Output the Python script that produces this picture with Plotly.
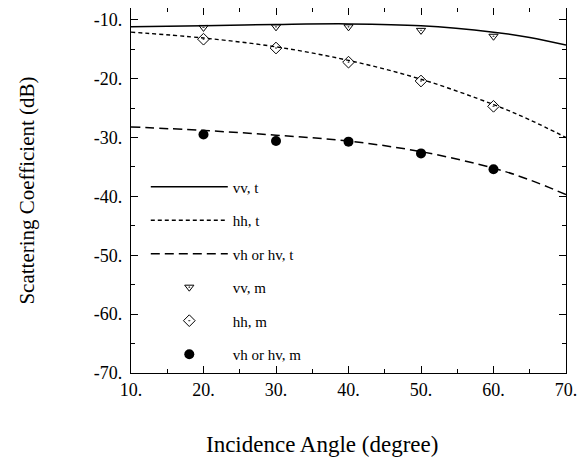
import plotly.graph_objects as go

angles_t = [10, 20, 30, 40, 50, 60, 65, 70]
vv_t = [-11.2, -11.0, -10.8, -10.7, -11.0, -12.1, -13.0, -14.3]
hh_t = [-12.1, -13.1, -14.6, -16.9, -20.1, -24.4, -27.0, -30.0]
vh_t = [-28.2, -28.8, -29.6, -30.6, -32.4, -35.2, -37.2, -39.7]

angles_m = [20, 30, 40, 50, 60]
vv_m = [-11.3, -11.2, -11.2, -11.8, -12.8]
hh_m = [-13.3, -14.8, -17.2, -20.4, -24.7]
vh_m = [-29.5, -30.6, -30.7, -32.7, -35.4]

x_ticks = [10, 20, 30, 40, 50, 60, 70]
x_labels = ["10.", "20.", "30.", "40.", "50.", "60.", "70."]
y_ticks = [-70, -60, -50, -40, -30, -20, -10]
y_labels = ["-70.", "-60.", "-50.", "-40.", "-30.", "-20.", "-10."]

FONT = "Liberation Serif, Times New Roman, serif"

fig = go.Figure()
fig.add_trace(go.Scatter(x=angles_t, y=vv_t, mode="lines", name="vv, t",
                         line=dict(color="black", width=1.5, shape="spline"), legendgroup="a"))
fig.add_trace(go.Scatter(x=angles_t, y=hh_t, mode="lines", name="hh, t",
                         line=dict(color="black", width=1.4, dash="4px,3px", shape="spline"), legendgroup="b"))
fig.add_trace(go.Scatter(x=angles_t, y=vh_t, mode="lines", name="vh or hv, t",
                         line=dict(color="black", width=1.5, dash="9px,5px", shape="spline"), legendgroup="c"))
fig.add_trace(go.Scatter(x=angles_m, y=vv_m, mode="markers", name="vv, m",
                         marker=dict(symbol="triangle-down-open-dot", size=8, color="black",
                                     line=dict(width=1)), legendgroup="d"))
fig.add_trace(go.Scatter(x=angles_m, y=hh_m, mode="markers", name="hh, m",
                         marker=dict(symbol="diamond-open-dot", size=9, color="black",
                                     line=dict(width=1)), legendgroup="e"))
fig.add_trace(go.Scatter(x=angles_m, y=vh_m, mode="markers", name="vh or hv, m",
                         marker=dict(symbol="circle", size=10, color="black"), legendgroup="f"))

axis_common = dict(showline=True, linecolor="black", linewidth=1.3, mirror="ticks",
                   ticks="inside", ticklen=7, tickcolor="black", showgrid=False, zeroline=False,
                   tickfont=dict(family=FONT, size=18, color="black"))

fig.update_xaxes(range=[10, 70], tickvals=x_ticks, ticktext=x_labels,
                 minor=dict(ticks="inside", dtick=5, ticklen=4, tickcolor="black", showgrid=False),
                 **axis_common)
fig.update_yaxes(range=[-70, -8], tickvals=y_ticks, ticktext=y_labels,
                 minor=dict(ticks="inside", dtick=5, ticklen=4, tickcolor="black", showgrid=False),
                 ticklabelstandoff=4,
                 title=dict(text="Scattering Coefficient (dB)", font=dict(family=FONT, size=21, color="black"),
                            standoff=53),
                 **axis_common)

fig.add_annotation(text="Incidence Angle (degree)", xref="paper", yref="paper",
                   x=0.44, y=-0.197, xanchor="center", yanchor="middle", showarrow=False,
                   font=dict(family=FONT, size=23, color="black"))

fig.update_layout(
    width=580, height=453,
    margin=dict(l=123, r=22, t=0, b=88, autoexpand=False),
    paper_bgcolor="white", plot_bgcolor="white",
    showlegend=True,
    legend=dict(x=0.034, y=0.555, xanchor="left", yanchor="top", bgcolor="rgba(0,0,0,0)",
                font=dict(family=FONT, size=15, color="black"), tracegroupgap=11,
                itemwidth=77),
)

fig.write_html("out.html")
